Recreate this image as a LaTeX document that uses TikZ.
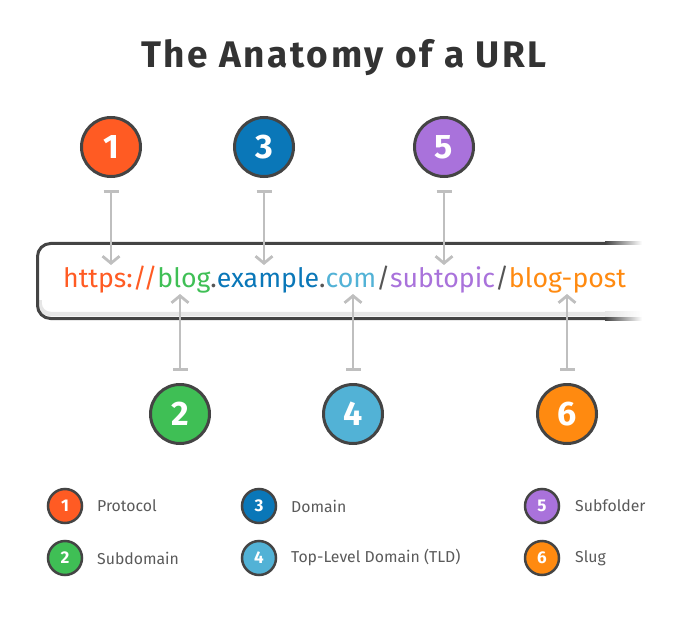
\documentclass[tikz,border=0pt]{standalone}
\usepackage{fontspec}
\setmainfont{Fira Sans}
\usetikzlibrary{arrows.meta}
\definecolor{cA}{HTML}{FF5B23}
\definecolor{cB}{HTML}{3FBF55}
\definecolor{cC}{HTML}{0A77B8}
\definecolor{cD}{HTML}{52B2D6}
\definecolor{cE}{HTML}{A972DB}
\definecolor{cF}{HTML}{FF8A10}
\definecolor{dark}{HTML}{444444}
\definecolor{titlecol}{HTML}{333333}
\definecolor{dotcol}{HTML}{555555}
\definecolor{legtext}{HTML}{5A5A5A}
\definecolor{arrowgray}{HTML}{BFBFBF}
\definecolor{bandgray}{HTML}{E6E6E6}
\begin{document}
\begin{tikzpicture}[x=1pt,y=-1pt,
  big/.style={circle, draw=dark, line width=3pt, minimum size=59pt, inner sep=0pt, text=white, font=\fontsize{34}{34}\selectfont\bfseries},
  small/.style={circle, draw=dark, line width=2.5pt, minimum size=34pt, inner sep=0pt, text=white, font=\fontsize{17}{17}\selectfont\bfseries},
  leg/.style={anchor=west, text=legtext, font=\fontsize{15.8}{16}\selectfont, inner sep=0pt},
  conn/.style={draw=arrowgray, line width=2.8pt, {Bar[width=15pt,line width=2.8pt]}-{Straight Barb[length=7pt,width=17pt,line width=2.8pt]}}]
\useasboundingbox (0,0) rectangle (676,617);

% title
\node[font=\fontsize{37}{37}\selectfont\bfseries\addfontfeature{LetterSpace=7}, text=titlecol, anchor=base, inner sep=0pt] (title) at (344,68) {The Anatomy of a URL};

% URL box
\draw[line width=4.5pt, bandgray, rounded corners=11pt] (39.5,300) -- (39.5,314) -- (605,314);
\shade[left color=bandgray, right color=white] (605,311.8) rectangle (642,316.2);
\draw[line width=3pt, dark, rounded corners=13pt] (605,243.5) -- (37.5,243.5) -- (37.5,318.5) -- (605,318.5);
\shade[left color=dark, right color=white] (605,242) rectangle (642,245);
\shade[left color=dark, right color=white] (605,317) rectangle (642,320);

% URL text
\node[anchor=base west, inner sep=0pt, font=\fontsize{26.7}{27}\selectfont] (url) at (63,287)
  {\textcolor{cA}{https://}\textcolor{cB}{blog}\textcolor{dotcol}{.}\textcolor{cC}{example}\textcolor{dotcol}{.}\textcolor{cD}{com}\textcolor{dotcol}{/}\textcolor{cE}{subtopic}\textcolor{dotcol}{/}\textcolor{cF}{blog-post}};

% big circles
\node[big, fill=cA] (c1) at (111,147) {1};
\node[big, fill=cC] (c3) at (264,147) {3};
\node[big, fill=cE] (c5) at (444,147) {5};
\node[big, fill=cB] (c2) at (180,414) {2};
\node[big, fill=cD] (c4) at (353,414) {4};
\node[big, fill=cF] (c6) at (567,414) {6};

% arrow tips
\coordinate (p1) at (111,265);
\coordinate (p3) at (264,265);
\coordinate (p5) at (444,265);
\coordinate (p2) at (180,294);
\coordinate (p4) at (353,294);
\coordinate (p6) at (567,294);

\draw[conn] ([yshift=-12pt]c1.south) -- (p1);
\draw[conn] ([yshift=-12pt]c3.south) -- (p3);
\draw[conn] ([yshift=-12pt]c5.south) -- (p5);
\draw[conn] ([yshift=12pt]c2.north) -- (p2);
\draw[conn] ([yshift=12pt]c4.north) -- (p4);
\draw[conn] ([yshift=12pt]c6.north) -- (p6);

% legend
\node[small, fill=cA] (l1) at (65,506) {1};
\node[small, fill=cB] (l2) at (65,558) {2};
\node[small, fill=cC] (l3) at (259,506) {3};
\node[small, fill=cD] (l4) at (259,558) {4};
\node[small, fill=cE] (l5) at (542,506) {5};
\node[small, fill=cF] (l6) at (542,558) {6};
\node[leg] (t1) at (97,506) {Protocol};
\node[leg] (t2) at (97,558) {Subdomain};
\node[leg] (t3) at (291,506) {Domain};
\node[leg] (t4) at (291,558) {Top-Level Domain (TLD)};
\node[leg] (t5) at (575,506) {Subfolder};
\node[leg] (t6) at (575,558) {Slug};
\end{tikzpicture}
\end{document}
